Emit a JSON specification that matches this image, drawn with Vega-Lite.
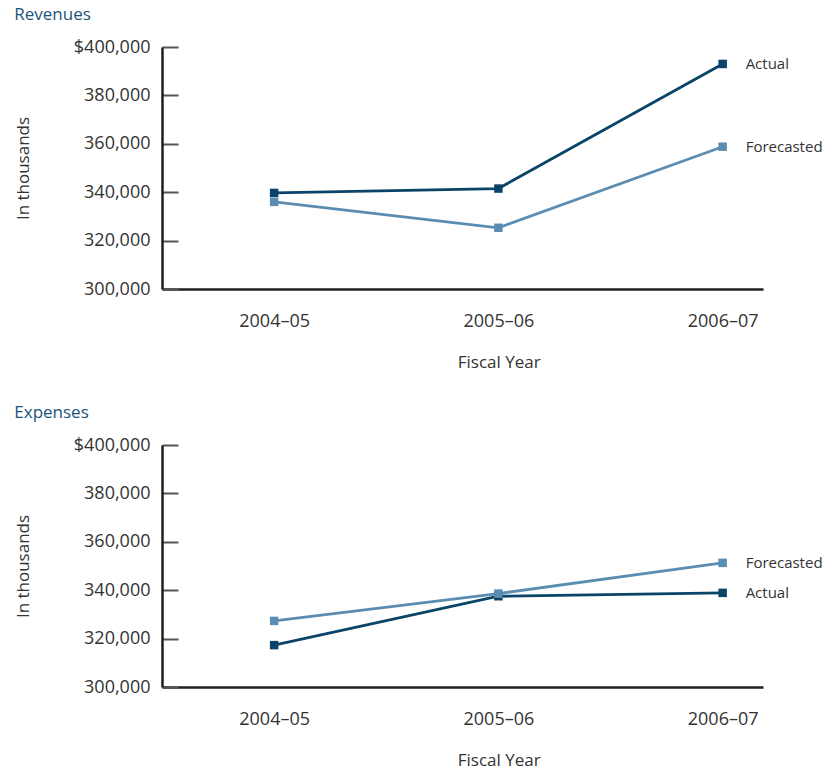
{
  "$schema": "https://vega.github.io/schema/vega-lite/v6.json",
  "background": "white",
  "padding": {"left": 14, "top": 6, "right": 4, "bottom": 4},
  "spacing": 34,
  "config": {
    "view": {"stroke": null},
    "font": "Open Sans",
    "title": {"anchor": "start", "frame": "bounds", "fontSize": 17, "fontWeight": "normal", "color": "#1b5479", "offset": 14},
    "axis": {
      "labelFont": "Open Sans", "labelFontSize": 18, "labelColor": "#333333",
      "titleFont": "Open Sans", "titleFontSize": 17, "titleFontWeight": "normal", "titleColor": "#333333",
      "domainColor": "#231f20", "domainWidth": 2.5, "grid": false
    }
  },
  "data": {
    "values": [
      {"panel": "Revenues", "series": "Actual", "fy": 2004, "value": 339700},
      {"panel": "Revenues", "series": "Actual", "fy": 2005, "value": 341500},
      {"panel": "Revenues", "series": "Actual", "fy": 2006, "value": 393000},
      {"panel": "Revenues", "series": "Forecasted", "fy": 2004, "value": 336000},
      {"panel": "Revenues", "series": "Forecasted", "fy": 2005, "value": 325300},
      {"panel": "Revenues", "series": "Forecasted", "fy": 2006, "value": 358800},
      {"panel": "Expenses", "series": "Actual", "fy": 2004, "value": 317300},
      {"panel": "Expenses", "series": "Actual", "fy": 2005, "value": 337500},
      {"panel": "Expenses", "series": "Actual", "fy": 2006, "value": 338900},
      {"panel": "Expenses", "series": "Forecasted", "fy": 2004, "value": 327300},
      {"panel": "Expenses", "series": "Forecasted", "fy": 2005, "value": 338600},
      {"panel": "Expenses", "series": "Forecasted", "fy": 2006, "value": 351300}
    ]
  },
  "vconcat": [
    {
      "title": "Revenues",
      "width": 601,
      "height": 242,
      "transform": [{"filter": "datum.panel == 'Revenues'"}],
      "encoding": {
        "x": {
          "field": "fy", "type": "quantitative",
          "scale": {"domain": [2003.5, 2006.18], "nice": false, "zero": false},
          "axis": {
            "values": [2004, 2005, 2006], "ticks": false, "labelPadding": 23,
            "labelExpr": "datum.value + '\u2013' + substring(toString(datum.value + 1), 2)",
            "title": "Fiscal Year", "titleX": 336.7, "titleAlign": "center", "titlePadding": 24
          }
        },
        "y": {
          "field": "value", "type": "quantitative",
          "scale": {"domain": [300000, 400000], "nice": false, "zero": false},
          "axis": {
            "values": [300000, 320000, 340000, 360000, 380000, 400000],
            "tickSize": -16, "tickColor": "#555555", "tickWidth": 2, "labelPadding": 28,
            "labelExpr": "(datum.value == 400000 ? '$' : '') + format(datum.value, ',')",
            "title": "In thousands", "titlePadding": 41
          }
        },
        "color": {
          "field": "series", "type": "nominal", "legend": null,
          "scale": {"domain": ["Actual", "Forecasted"], "range": ["#0a4468", "#5b8db2"]}
        }
      },
      "layer": [
        {"mark": {"type": "line", "strokeWidth": 2.8}},
        {"mark": {"type": "point", "shape": "square", "filled": true, "size": 72, "opacity": 1}},
        {
          "transform": [{"filter": "datum.fy == 2006"}],
          "mark": {"type": "text", "align": "left", "baseline": "middle", "dx": 23, "fontSize": 15, "color": "#333333"},
          "encoding": {"text": {"field": "series"}, "color": {"value": "#333333"}}
        }
      ]
    },
    {
      "title": "Expenses",
      "width": 601,
      "height": 242,
      "transform": [{"filter": "datum.panel == 'Expenses'"}],
      "encoding": {
        "x": {
          "field": "fy", "type": "quantitative",
          "scale": {"domain": [2003.5, 2006.18], "nice": false, "zero": false},
          "axis": {
            "values": [2004, 2005, 2006], "ticks": false, "labelPadding": 23,
            "labelExpr": "datum.value + '\u2013' + substring(toString(datum.value + 1), 2)",
            "title": "Fiscal Year", "titleX": 336.7, "titleAlign": "center", "titlePadding": 24
          }
        },
        "y": {
          "field": "value", "type": "quantitative",
          "scale": {"domain": [300000, 400000], "nice": false, "zero": false},
          "axis": {
            "values": [300000, 320000, 340000, 360000, 380000, 400000],
            "tickSize": -16, "tickColor": "#555555", "tickWidth": 2, "labelPadding": 28,
            "labelExpr": "(datum.value == 400000 ? '$' : '') + format(datum.value, ',')",
            "title": "In thousands", "titlePadding": 41
          }
        },
        "color": {
          "field": "series", "type": "nominal", "legend": null,
          "scale": {"domain": ["Actual", "Forecasted"], "range": ["#0a4468", "#5b8db2"]}
        }
      },
      "layer": [
        {"mark": {"type": "line", "strokeWidth": 2.8}},
        {"mark": {"type": "point", "shape": "square", "filled": true, "size": 72, "opacity": 1}},
        {
          "transform": [{"filter": "datum.fy == 2006"}],
          "mark": {"type": "text", "align": "left", "baseline": "middle", "dx": 23, "fontSize": 15, "color": "#333333"},
          "encoding": {"text": {"field": "series"}, "color": {"value": "#333333"}}
        }
      ]
    }
  ]
}
